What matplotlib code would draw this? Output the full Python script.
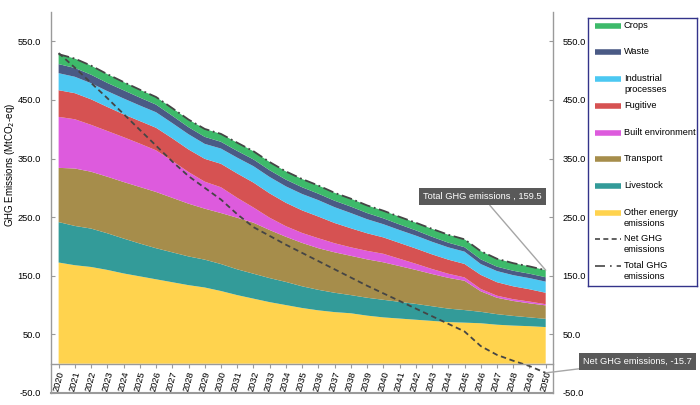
import numpy as np
import matplotlib
matplotlib.use("Agg")
import matplotlib.pyplot as plt

plt.rcParams['font.family'] = ['Liberation Sans', 'DejaVu Sans']

years = list(range(2020, 2051))

# sector emissions, MtCO2-eq (stacked bottom -> top)
other_energy = [172.6, 168, 165, 160, 154, 149, 144, 139, 134, 130,
                124, 117, 111, 105, 100, 95, 91, 88, 86, 82,
                79, 77, 75, 73, 71, 70, 69, 66.5, 65, 64, 62.5]
livestock = [69, 67, 65.5, 62.5, 59.5, 56, 53, 51, 49, 47.5,
             46, 44, 42.5, 41, 39.5, 37, 35, 33, 31, 30.5,
             30, 28.5, 27, 25, 23, 21.5, 19.5, 18, 16.5, 15, 14]
transport = [92.5, 98, 97, 96.5, 96.5, 96.5, 96, 93, 90, 87,
             87, 88, 87, 82, 77, 74, 71, 69, 67, 65.5,
             64, 61, 58, 55, 52.5, 50, 35, 28, 25.5, 24, 23]
built_env = [87, 84, 80, 78, 76.5, 74, 71, 63, 54, 46,
             44, 34, 26, 21, 18, 17, 17, 15.5, 14.5, 14.5,
             14.5, 12.5, 10.5, 8.5, 7, 5.7, 4, 3.5, 3, 3, 2]
fugitive = [45.5, 44.5, 43.5, 41, 39, 38.5, 38.5, 38.5, 38.5, 39,
            40, 41.5, 42.5, 41.5, 40, 38.5, 37, 34.5, 32.5, 30,
            28, 27, 26, 25, 24, 23, 24, 23, 22, 21, 19.5]
industrial = [29, 28, 27.5, 27, 27, 26.5, 26.5, 26, 26, 25.5,
              26, 27, 28, 28, 28, 28, 28, 27, 26, 24,
              22.5, 22, 22, 21.5, 21, 21, 18.5, 19, 19, 19, 19]
waste = [15.5, 15, 14.5, 14, 14, 13.5, 13, 12.5, 12, 12,
         11.5, 11.5, 11.5, 11.5, 11.5, 11.5, 11, 11, 11, 10.5,
         10, 9.5, 9, 8.5, 8, 7.5, 8, 7.5, 7.5, 7.5, 7.5]
crops = [17, 16, 15.5, 15, 14, 13.5, 13, 13, 13, 13.5,
         13.5, 14, 14, 14, 14, 14, 14, 13.5, 13.5, 13,
         13, 13, 13, 13.5, 13.5, 13.5, 14, 13.5, 13, 12.5, 12]
net_ghg = [530, 505, 479, 453, 426, 399, 372, 345, 320, 300,
           280, 255, 233, 218, 203, 189, 175, 161, 147, 133,
           120, 107, 94, 81, 68, 55, 30, 15, 5, -4, -15.7]

layers = [other_energy, livestock, transport, built_env,
          fugitive, industrial, waste, crops]
layer_names = ["Other energy\nemissions", "Livestock", "Transport",
               "Built environment", "Fugitive", "Industrial\nprocesses",
               "Waste", "Crops"]
colors = ["#ffd34e", "#339b99", "#a68d4b", "#dd5bdd",
          "#d65252", "#4cc8f2", "#4a5a85", "#3dba6a"]
total_ghg = np.sum(np.array(layers), axis=0)

yticks = [-50, 50, 150, 250, 350, 450, 550]
axis_grey = "#9a9a9a"
line_col = "#454545"
fs = 6.7

fig = plt.figure(figsize=(7, 4.05), dpi=100)
ax = fig.add_axes([50.5 / 700, 12 / 405, 502.5 / 700, 381 / 405])

ax.stackplot(years, *layers, colors=colors, linewidth=0)
ax.plot(years, net_ghg, color=line_col, lw=1.3, linestyle=(0, (3, 2)))
ax.plot(years, total_ghg, color=line_col, lw=1.3, linestyle=(0, (6, 2, 1, 2)))

# spine position first, it resets the ticks
ax.spines["top"].set_visible(False)
ax.spines["bottom"].set_position(("data", 0))
for s in ["left", "right", "bottom"]:
    ax.spines[s].set_color(axis_grey)
    ax.spines[s].set_linewidth(1)
ax.axhline(-50, color=axis_grey, lw=1.5, clip_on=False)

ax.set_xlim(2019.5, 2050.45)
ax.set_ylim(-50, 600)
ax.set_yticks(yticks)
ax.set_yticklabels([f"{v:.1f}" for v in yticks])
ax.set_xticks(years)
ax.set_xticklabels([str(y) for y in years], rotation=75, ha="center", fontsize=fs)

ax.tick_params(axis="y", direction="in", length=3, pad=7, labelsize=fs,
               color=axis_grey, right=True, labelright=True)
ax.tick_params(axis="x", direction="out", length=3, pad=1.5, color=axis_grey)

ax.set_ylabel("GHG Emissions (MtCO$_2$-eq)", fontsize=fs + 0.3)
ax.yaxis.set_label_coords(-0.066, 0.598)

box = dict(boxstyle="square,pad=0.45", fc="#595959", ec="none")
arrow = dict(arrowstyle="-", color="#a6a6a6", lw=1, shrinkA=0, shrinkB=0)
ax.annotate(f"Total GHG emissions , {total_ghg[-1]:.1f}", xy=(2050, total_ghg[-1]),
            xytext=(2046.1, 285), ha="center", va="center", fontsize=fs,
            color="white", bbox=box, arrowprops=arrow, annotation_clip=False)
ax.annotate(f"Net GHG emissions, {net_ghg[-1]:.1f}", xy=(2050, net_ghg[-1]),
            xytext=(2055.65, 3.5), ha="center", va="center", fontsize=fs,
            color="white", bbox=box, arrowprops=arrow, annotation_clip=False)

# legend drawn in its own box
lg = fig.add_axes([588 / 700, 1 - 286 / 405, 109 / 700, 268 / 405])
lg.set_xlim(0, 109)
lg.set_ylim(268, 0)
lg.set_xticks([])
lg.set_yticks([])
for s in lg.spines.values():
    s.set_color("#33338a")
    s.set_linewidth(1)

rows = [7.7, 34.3, 61.3, 88, 114.7, 141.3, 168, 194.7, 221.3, 247.7]
for i in range(8):
    k = 7 - i
    lg.plot([7, 32.7], [rows[i], rows[i]], color=colors[k], lw=4,
            solid_capstyle="butt")
    lg.text(36, rows[i] - 5, layer_names[k], fontsize=fs, va="top",
            linespacing=1.3)
lg.plot([7, 32.7], [rows[8], rows[8]], color=line_col, lw=1.2, linestyle=(0, (3, 2)))
lg.text(36, rows[8] - 5, "Net GHG\nemissions", fontsize=fs, va="top", linespacing=1.3)
lg.plot([7, 32.7], [rows[9], rows[9]], color=line_col, lw=1.2,
        linestyle=(0, (6, 3, 1, 3)))
lg.text(36, rows[9] - 5, "Total GHG\nemissions", fontsize=fs, va="top", linespacing=1.3)

fig.savefig("out.png", dpi=100)
